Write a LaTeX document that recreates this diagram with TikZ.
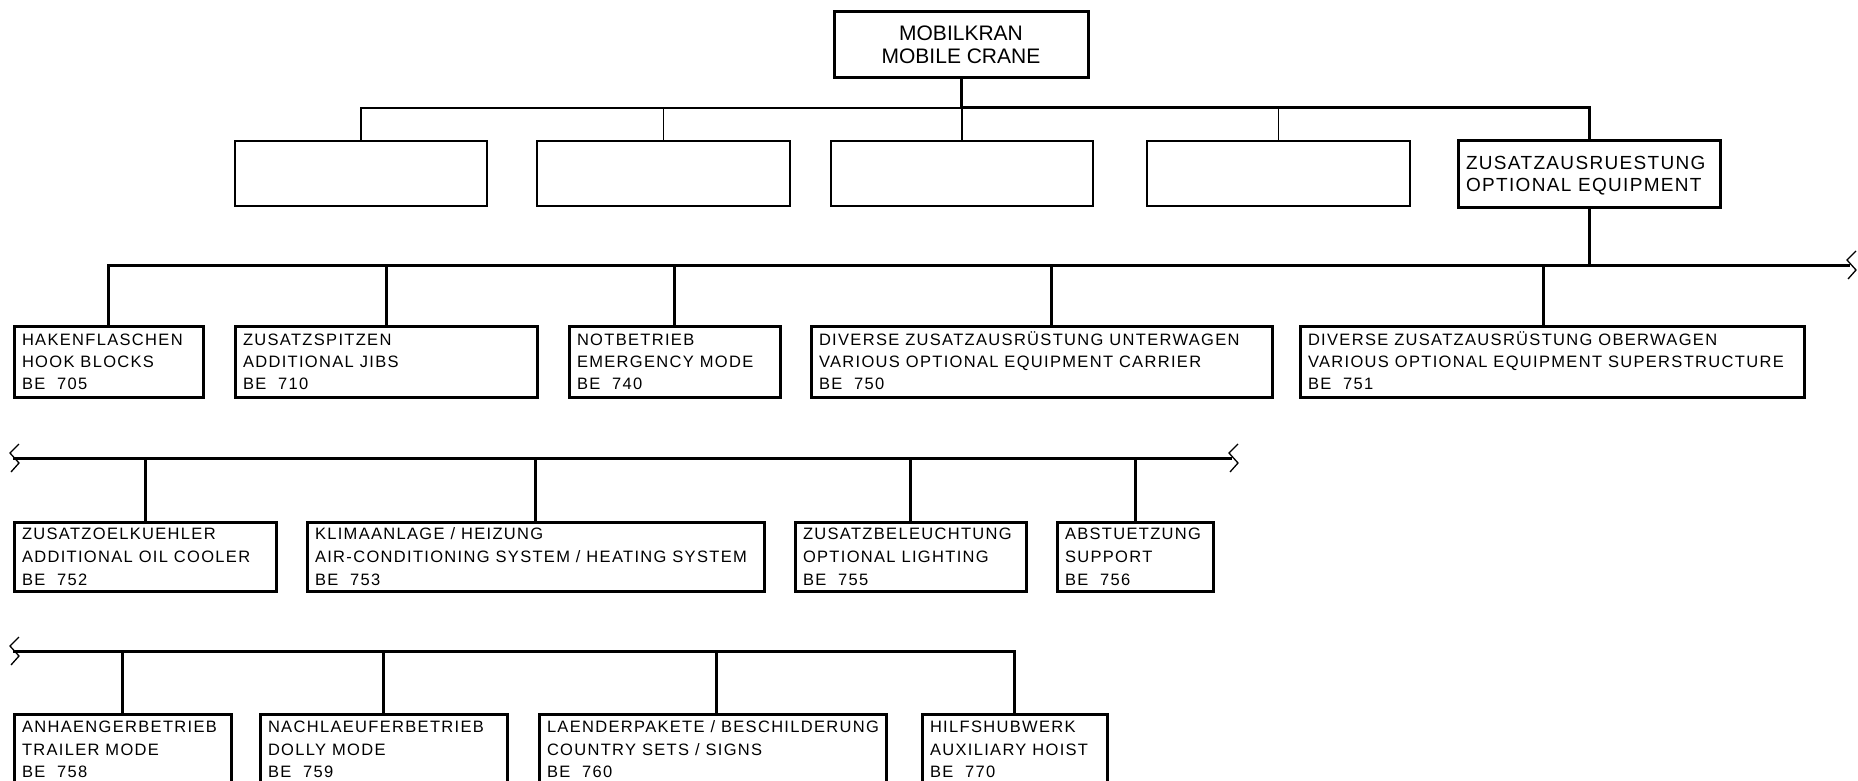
\documentclass[tikz,border=0pt]{standalone}
\usepackage{fontspec}
\setmainfont{Liberation Sans}
\newfontfamily\rowfont[LetterSpace=8]{Liberation Sans}
\newfontfamily\optfont[LetterSpace=7]{Liberation Sans}
\newcommand\rowsize{\rowfont\fontsize{16.5}{22}\selectfont}
\newcommand\optsize{\optfont\fontsize{19}{22}\selectfont}
\tikzset{
  thk/.style={line width=3pt},
  thn/.style={line width=1.3pt},
  box/.style={draw, line width=3pt, rectangle, inner sep=0pt, outer sep=0pt},
  ebox/.style={draw, line width=1.3pt, rectangle, inner sep=0pt, outer sep=0pt},
}
\newcommand\bxl[1]{\hbox{\vrule width 0pt height \fontcharht\font`H depth 0pt\smash{#1}}}
% name, x1, y1, x2, y2, font, pitch, lines
\newcommand\bx[8]{%
  \node[box, minimum width={#4-#2}, minimum height={#5-#3}] (#1) at ({(#2+#4)/2},{(#3+#5)/2})
  {#6\hbox to \dimexpr #4pt-#2pt-16pt\relax{\vbox{\baselineskip=#7pt\lineskiplimit=-100pt\lineskip=0pt #8}\hss}};}
\newcommand\brk[2]{\draw[thn] ({#1+6},{#2-14}) -- ({#1-3},{#2-5}) -- ({#1+6},{#2+5}) -- ({#1-2},{#2+14});}
\begin{document}
\begin{tikzpicture}[x=1pt,y=-1pt]
\useasboundingbox (0,0) rectangle (1858,781);
\clip (0,0) rectangle (1858,781);
% level 0
\node[box, minimum width=254, minimum height=66, align=center, font=\fontsize{21}{23}\selectfont] (top) at (961,45) {MOBILKRAN\\MOBILE CRANE};
% level 1
\node[ebox, minimum width=252, minimum height=65] (e1) at (361,173.5) {};
\node[ebox, minimum width=253, minimum height=65] (e2) at (663.5,173.5) {};
\node[ebox, minimum width=262, minimum height=65] (e3) at (962,173.5) {};
\node[ebox, minimum width=263, minimum height=65] (e4) at (1278.5,173.5) {};
\bx{opt}{1458}{141}{1720}{207}{\optsize}{22}{\bxl{ZUSATZAUSRUESTUNG}\bxl{OPTIONAL EQUIPMENT}}
\coordinate (l1) at (0,108);
\draw[thn] (e1.north) |- (top.south |- l1);
\draw[thn] (e2.north) -- (e2.north |- l1);
\draw[thn] (e3.north) -- (e3.north |- l1);
\draw[thn] (e4.north) -- (e4.north |- l1);
\draw[thk] (top.south) -- (top.south |- l1) -| (opt.north);
% row 1
\bx{b705}{14}{326}{203}{397}{\rowsize}{22}{\bxl{HAKENFLASCHEN}\bxl{HOOK BLOCKS}\bxl{BE\ \ 705}}
\bx{b710}{235}{326}{537}{397}{\rowsize}{22}{\bxl{ZUSATZSPITZEN}\bxl{ADDITIONAL JIBS}\bxl{BE\ \ 710}}
\bx{b740}{569}{326}{780}{397}{\rowsize}{22}{\bxl{NOTBETRIEB}\bxl{EMERGENCY MODE}\bxl{BE\ \ 740}}
\bx{b750}{811}{326}{1272}{397}{\rowsize}{22}{\bxl{DIVERSE ZUSATZAUSRÜSTUNG UNTERWAGEN}\bxl{VARIOUS OPTIONAL EQUIPMENT CARRIER}\bxl{BE\ \ 750}}
\bx{b751}{1300}{326}{1804}{397}{\rowsize}{22}{\bxl{DIVERSE ZUSATZAUSRÜSTUNG OBERWAGEN}\bxl{VARIOUS OPTIONAL EQUIPMENT SUPERSTRUCTURE}\bxl{BE\ \ 751}}
\coordinate (r1R) at (1850,265);
\draw[thk] (b705.north) |- (r1R);
\draw[thk] (b710.north) -- (b710.north |- r1R);
\draw[thk] (b740.north) -- (b740.north |- r1R);
\draw[thk] ([xshift=9.5pt]b750.north) -- ([xshift=9.5pt]b750.north |- r1R);
\draw[thk] ([xshift=-9pt]b751.north) -- ([xshift=-9pt]b751.north |- r1R);
\draw[thk] (opt.south) -- (opt.south |- r1R);
\brk{1850}{265}
% row 2
\bx{b752}{14}{522}{276}{591}{\rowsize}{23}{\bxl{ZUSATZOELKUEHLER}\bxl{ADDITIONAL OIL COOLER}\bxl{BE\ \ 752}}
\bx{b753}{307}{522}{764}{591}{\rowsize}{23}{\bxl{KLIMAANLAGE / HEIZUNG}\bxl{AIR-CONDITIONING SYSTEM / HEATING SYSTEM}\bxl{BE\ \ 753}}
\bx{b755}{795}{522}{1026}{591}{\rowsize}{23}{\bxl{ZUSATZBELEUCHTUNG}\bxl{OPTIONAL LIGHTING}\bxl{BE\ \ 755}}
\bx{b756}{1057}{522}{1213}{591}{\rowsize}{23}{\bxl{ABSTUETZUNG}\bxl{SUPPORT}\bxl{BE\ \ 756}}
\coordinate (r2L) at (13,458);
\coordinate (r2R) at (1232,458);
\draw[thk] (r2L) -- (r2R);
\draw[thk] (b752.north) -- (b752.north |- r2L);
\draw[thk] (b753.north) -- (b753.north |- r2L);
\draw[thk] (b755.north) -- (b755.north |- r2L);
\draw[thk] (b756.north) -- (b756.north |- r2L);
\brk{13}{458}
\brk{1232}{458}
% row 3
\bx{b758}{14}{714}{231}{785}{\rowsize}{22.5}{\bxl{ANHAENGERBETRIEB}\bxl{TRAILER MODE}\bxl{BE\ \ 758}}
\bx{b759}{260}{714}{507}{785}{\rowsize}{22.5}{\bxl{NACHLAEUFERBETRIEB}\bxl{DOLLY MODE}\bxl{BE\ \ 759}}
\bx{b760}{539}{714}{886}{785}{\rowsize}{22.5}{\bxl{LAENDERPAKETE / BESCHILDERUNG}\bxl{COUNTRY SETS / SIGNS}\bxl{BE\ \ 760}}
\bx{b770}{922}{714}{1107}{785}{\rowsize}{22.5}{\bxl{HILFSHUBWERK}\bxl{AUXILIARY HOIST}\bxl{BE\ \ 770}}
\coordinate (r3L) at (13,651);
\draw[thk] (r3L) -| (b770.north);
\draw[thk] (b758.north) -- (b758.north |- r3L);
\draw[thk] (b759.north) -- (b759.north |- r3L);
\draw[thk] ([xshift=3.5pt]b760.north) -- ([xshift=3.5pt]b760.north |- r3L);
\brk{13}{651}
\end{tikzpicture}
\end{document}
